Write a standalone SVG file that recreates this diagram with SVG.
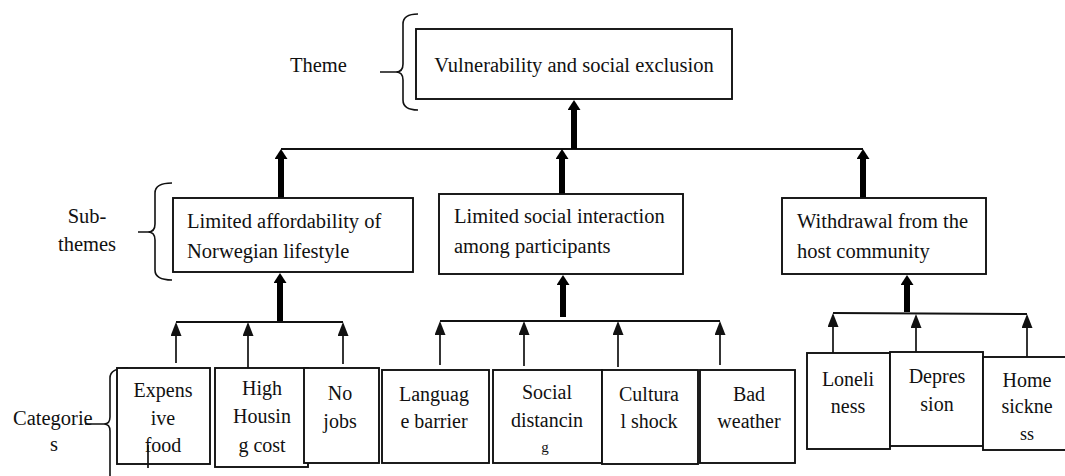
<svg xmlns="http://www.w3.org/2000/svg" width="1065" height="476" viewBox="0 0 1065 476" font-family="Liberation Serif, serif">
<style>
  text { font-family: "Liberation Serif", serif; font-size: 20.5px; fill: #111; }
  .c { text-anchor: middle; font-size: 20px; }
  .box { fill: #fff; stroke: #111; stroke-width: 1.9; }
  .thick { stroke: #000; stroke-width: 6; fill: none; }
  .thin { stroke: #111; stroke-width: 1.7; fill: none; }
  .bar { stroke: #111; stroke-width: 1.9; fill: none; }
  .brace { stroke: #111; stroke-width: 1.6; fill: none; }
</style>
<defs>
  <marker id="headThick" viewBox="0 0 10 13" refX="2" refY="6.5" markerWidth="10" markerHeight="13" markerUnits="userSpaceOnUse" orient="auto">
    <path d="M0,0 L10,6.5 L0,13 z" fill="#000"/>
  </marker>
  <marker id="headThin" viewBox="0 0 14 11" refX="1" refY="5.5" markerWidth="14" markerHeight="11" markerUnits="userSpaceOnUse" orient="auto">
    <path d="M0,0 L14,5.5 L0,11 z" fill="#111"/>
  </marker>
</defs>
<rect width="1065" height="476" fill="#fff"/>

<g id="labels">
  <text x="290" y="72">Theme</text>
  <text x="87" y="223" text-anchor="middle">Sub-</text>
  <text x="87" y="251" text-anchor="middle">themes</text>
  <text x="13" y="425">Categorie</text>
  <text x="54" y="451" text-anchor="middle">s</text>
  <path class="brace" d="M418,14 Q403,14 403,24 L403,64 Q403,72 396,72 Q403,72 403,80 L403,100 Q403,110 418,110 M380,72 L396,72"/>
  <path class="brace" d="M172,183 Q155,183 155,193 L155,224 Q155,232 148,232 Q155,232 155,240 L155,270 Q155,280 172,280 M138,232 L148,232"/>
  <path class="brace" d="M128,368 Q110,368 110,378 L110,417 Q110,424 104,424 Q110,424 110,431 L110,476 M85,424 L104,424"/>
</g>

<g id="connectors">
  <path class="bar" d="M281,149 L863,149"/>
  <line class="thick" x1="574" y1="149" x2="574" y2="108" marker-end="url(#headThick)"/>
  <line class="thick" x1="281" y1="198" x2="281" y2="157" marker-end="url(#headThick)"/>
  <line class="thick" x1="562" y1="194" x2="562" y2="157" marker-end="url(#headThick)"/>
  <line class="thick" x1="863" y1="198" x2="863" y2="157" marker-end="url(#headThick)"/>
  <line class="thick" x1="280" y1="322" x2="280" y2="281" marker-end="url(#headThick)"/>
  <line class="thick" x1="563" y1="317" x2="563" y2="283" marker-end="url(#headThick)"/>
  <line class="thick" x1="907" y1="312" x2="907" y2="283" marker-end="url(#headThick)"/>

  <path class="bar" d="M176,322 L343,322"/>
  <line class="thin" x1="176" y1="363" x2="176" y2="335" marker-end="url(#headThin)"/>
  <line class="thin" x1="248" y1="368" x2="248" y2="335" marker-end="url(#headThin)"/>
  <line class="thin" x1="343" y1="364" x2="343" y2="335" marker-end="url(#headThin)"/>

  <path class="bar" d="M440,321 L720,321"/>
  <line class="thin" x1="440" y1="365" x2="440" y2="334" marker-end="url(#headThin)"/>
  <line class="thin" x1="524" y1="366" x2="524" y2="334" marker-end="url(#headThin)"/>
  <line class="thin" x1="618" y1="367" x2="618" y2="334" marker-end="url(#headThin)"/>
  <line class="thin" x1="720" y1="365" x2="720" y2="334" marker-end="url(#headThin)"/>

  <path class="bar" d="M833,313 L1027,314"/>
  <line class="thin" x1="833" y1="357" x2="833" y2="326" marker-end="url(#headThin)"/>
  <line class="thin" x1="916" y1="359" x2="916" y2="327" marker-end="url(#headThin)"/>
  <line class="thin" x1="1027" y1="360" x2="1027" y2="327" marker-end="url(#headThin)"/>
</g>

<g id="theme">
  <rect class="box" x="416" y="29" width="316" height="70"/>
  <text x="574" y="72" text-anchor="middle">Vulnerability and social exclusion</text>
</g>

<g id="sub-affordability">
  <rect class="box" x="173" y="198" width="240" height="74"/>
  <text x="187" y="228">Limited affordability of</text>
  <text x="187" y="258">Norwegian lifestyle</text>
</g>
<g id="sub-social">
  <rect class="box" x="439" y="194" width="244" height="80"/>
  <text x="454" y="223">Limited social interaction</text>
  <text x="454" y="253">among participants</text>
</g>
<g id="sub-withdrawal">
  <rect class="box" x="782" y="198" width="204" height="76"/>
  <text x="797" y="228">Withdrawal from the</text>
  <text x="797" y="258">host community</text>
</g>

<g id="cat-expensive-food">
  <rect class="box" x="117" y="368" width="93" height="96"/>
  <text class="c" x="163" y="397">Expens</text>
  <text class="c" x="163" y="425">ive</text>
  <text class="c" x="163" y="452">food</text>
  <path class="thin" d="M148,445 L148,468"/>
</g>
<g id="cat-high-housing">
  <rect class="box" x="215" y="368" width="93" height="99"/>
  <text class="c" x="262" y="395">High</text>
  <text class="c" x="262" y="423">Housin</text>
  <text class="c" x="262" y="452">g cost</text>
</g>
<g id="cat-no-jobs">
  <rect class="box" x="304" y="368" width="75" height="95"/>
  <text class="c" x="340" y="400">No</text>
  <text class="c" x="340" y="428">jobs</text>
</g>
<g id="cat-language">
  <rect class="box" x="382" y="370" width="107" height="93"/>
  <text class="c" x="434" y="401">Languag</text>
  <text class="c" x="434" y="428">e barrier</text>
</g>
<g id="cat-social-distancing">
  <rect class="box" x="493" y="370" width="109" height="93"/>
  <text class="c" x="547" y="399">Social</text>
  <text class="c" x="547" y="427">distancin</text>
  <text class="c" x="545" y="452" style="font-size:15px">g</text>
</g>
<g id="cat-cultural-shock">
  <rect class="box" x="602" y="370" width="96" height="94"/>
  <text class="c" x="649" y="401">Cultura</text>
  <text class="c" x="649" y="428">l shock</text>
</g>
<g id="cat-bad-weather">
  <rect class="box" x="700" y="370" width="95" height="93"/>
  <text class="c" x="749" y="401">Bad</text>
  <text class="c" x="749" y="428">weather</text>
</g>
<g id="cat-loneliness">
  <rect class="box" x="807" y="353" width="83" height="96"/>
  <text class="c" x="848" y="386">Loneli</text>
  <text class="c" x="848" y="413">ness</text>
</g>
<g id="cat-depression">
  <rect class="box" x="890" y="352" width="93" height="94"/>
  <text class="c" x="937" y="383">Depres</text>
  <text class="c" x="937" y="411">sion</text>
</g>
<g id="cat-home-sickness">
  <rect class="box" x="983" y="357" width="84" height="93"/>
  <text class="c" x="1027" y="387">Home</text>
  <text class="c" x="1027" y="413">sickne</text>
  <text class="c" x="1027" y="440" style="font-size:18px">ss</text>
</g>
</svg>
